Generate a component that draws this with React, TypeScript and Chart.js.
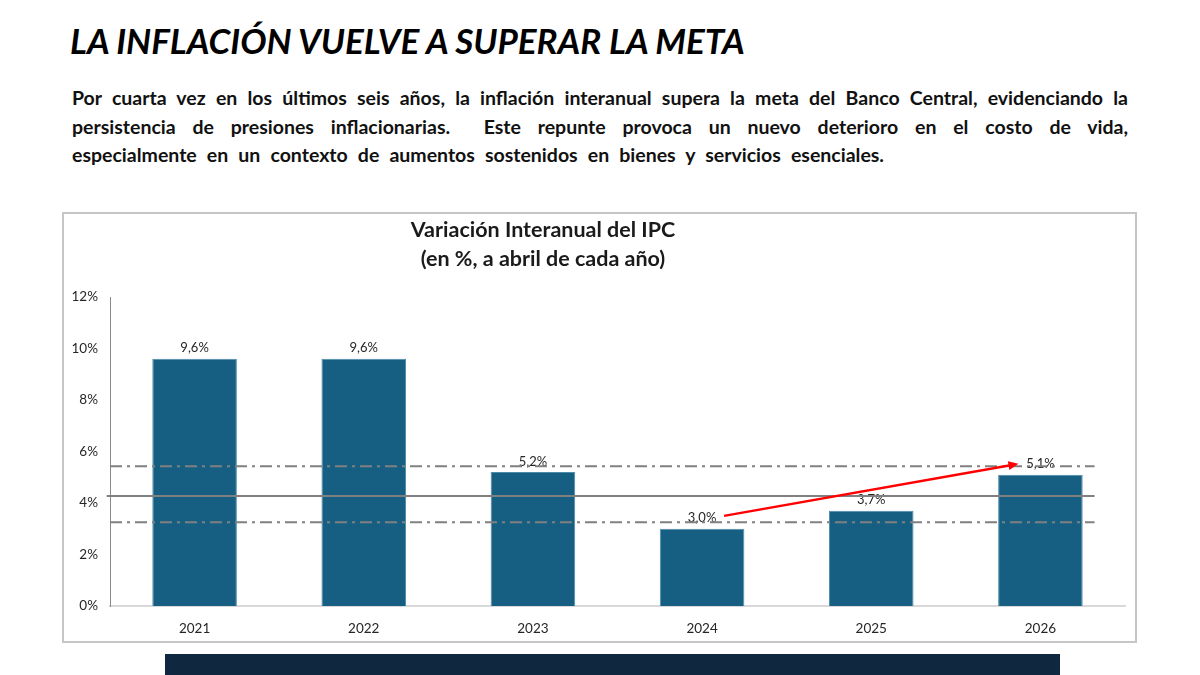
import React, { useEffect, useRef } from "react";
import { Chart, registerables } from "chart.js";

Chart.register(...registerables);

// ---- data ----
const categories = ["2021", "2022", "2023", "2024", "2025", "2026"];
const inflation = [9.6, 9.6, 5.2, 3.0, 3.7, 5.1];
const yMin = 0;
const yMax = 12;
const yStep = 2;
const targetCenter = 4.27; // meta central
const targetBand = [5.43, 3.25]; // rango de tolerancia
const centerLineX = [-0.52, 5.32];
const bandLineX = [-0.5, 5.32];
const arrowFrom = [3.13, 3.5];
const arrowTo = [4.87, 5.52];

const headline = "LA INFLACIÓN VUELVE A SUPERAR LA META";
const bodyLines = [
  "Por cuarta vez en los últimos seis años, la inflación interanual supera la meta del Banco Central, evidenciando la",
  "persistencia de presiones inflacionarias.  Este repunte provoca un nuevo deterioro en el costo de vida,",
  "especialmente en un contexto de aumentos sostenidos en bienes y servicios esenciales.",
];
const bodyLineWidths = [1056, 1056, 812];
const chartTitle = ["Variación Interanual del IPC", "(en %, a abril de cada año)"];

const FONT = "Lato, 'Open Sans', sans-serif";

const fmt = (v: number) => v.toFixed(1).replace(".", ",") + "%";

const overlayPlugin = {
  id: "overlay",
  afterDatasetsDraw(chart: any) {
    const { ctx, scales } = chart;
    const xs = scales.x;
    const ys = scales.y;
    const meta = chart.getDatasetMeta(0);
    ctx.save();
    // value labels
    ctx.font = "13px " + FONT;
    ctx.fillStyle = "#262626";
    ctx.textAlign = "center";
    ctx.textBaseline = "bottom";
    meta.data.forEach((bar: any, i: number) => {
      ctx.fillText(fmt(inflation[i]), bar.x, ys.getPixelForValue(inflation[i]) - 4);
    });
    // target center line
    ctx.strokeStyle = "#808080";
    ctx.lineWidth = 2;
    ctx.setLineDash([]);
    ctx.beginPath();
    ctx.moveTo(xs.getPixelForValue(centerLineX[0]), ys.getPixelForValue(targetCenter));
    ctx.lineTo(xs.getPixelForValue(centerLineX[1]), ys.getPixelForValue(targetCenter));
    ctx.stroke();
    // band lines
    ctx.setLineDash([12, 5, 3, 5]);
    targetBand.forEach((v) => {
      ctx.beginPath();
      ctx.moveTo(xs.getPixelForValue(bandLineX[0]), ys.getPixelForValue(v));
      ctx.lineTo(xs.getPixelForValue(bandLineX[1]), ys.getPixelForValue(v));
      ctx.stroke();
    });
    ctx.setLineDash([]);
    // arrow
    const x1 = xs.getPixelForValue(arrowFrom[0]);
    const y1 = ys.getPixelForValue(arrowFrom[1]);
    const x2 = xs.getPixelForValue(arrowTo[0]);
    const y2 = ys.getPixelForValue(arrowTo[1]);
    const ang = Math.atan2(y2 - y1, x2 - x1);
    const head = 10;
    ctx.strokeStyle = "#ff0000";
    ctx.fillStyle = "#ff0000";
    ctx.lineWidth = 2.5;
    ctx.beginPath();
    ctx.moveTo(x1, y1);
    ctx.lineTo(x2 - head * 0.8 * Math.cos(ang), y2 - head * 0.8 * Math.sin(ang));
    ctx.stroke();
    ctx.beginPath();
    ctx.moveTo(x2, y2);
    ctx.lineTo(x2 - head * Math.cos(ang) + 4.5 * Math.sin(ang), y2 - head * Math.sin(ang) - 4.5 * Math.cos(ang));
    ctx.lineTo(x2 - head * Math.cos(ang) - 4.5 * Math.sin(ang), y2 - head * Math.sin(ang) + 4.5 * Math.cos(ang));
    ctx.closePath();
    ctx.fill();
    ctx.restore();
  },
};

export default function App() {
  const canvasRef = useRef<HTMLCanvasElement | null>(null);

  useEffect(() => {
    if (!canvasRef.current) return;
    const chart = new Chart(canvasRef.current, {
      type: "bar",
      data: {
        labels: categories,
        datasets: [
          {
            data: inflation,
            backgroundColor: "#165f82",
            borderColor: "#4d8cab",
            borderWidth: 1,
            barPercentage: 0.5,
            categoryPercentage: 1,
          },
        ],
      },
      options: {
        animation: false,
        responsive: false,
        events: [],
        layout: { padding: { left: 0, top: 85, right: 12, bottom: 0 } },
        plugins: {
          legend: { display: false },
          title: { display: false },
          tooltip: { enabled: false },
        },
        scales: {
          x: {
            grid: { display: false, drawTicks: false },
            border: { display: true, color: "#d9d9d9", width: 2 },
            ticks: { color: "#262626", font: { family: FONT, size: 13.5 }, padding: 15 },
            afterFit: (s: any) => {
              s.height = 37;
            },
          },
          y: {
            min: yMin,
            max: yMax,
            grid: { display: false, drawTicks: false },
            border: { display: true, color: "#8c8c8c", width: 1 },
            ticks: {
              stepSize: yStep,
              color: "#262626",
              font: { family: FONT, size: 13.5 },
              padding: 12,
              callback: (v: any) => v + "%",
            },
            afterFit: (s: any) => {
              s.width = 48;
            },
          },
        },
      },
      plugins: [overlayPlugin],
    });
    return () => chart.destroy();
  }, []);

  return (
    <div
      style={{
        position: "fixed",
        left: 0,
        top: 0,
        width: 1200,
        height: 675,
        background: "#ffffff",
        overflow: "hidden",
        fontFamily: FONT,
        color: "#000",
      }}
    >
      <div
        style={{
          position: "absolute",
          left: 70,
          top: 23,
          fontSize: 35,
          lineHeight: "35px",
          fontWeight: 700,
          fontStyle: "italic",
          whiteSpace: "nowrap",
          color: "#000",
        }}
      >
        {headline}
      </div>
      <div
        style={{
          position: "absolute",
          left: 72,
          top: 84,
          fontSize: 19.5,
          lineHeight: "28.5px",
          fontWeight: 700,
          color: "#111",
        }}
      >
        {bodyLines.map((l, i) => (
          <div
            key={i}
            style={{
              width: bodyLineWidths[i],
              whiteSpace: "pre",
              textAlign: "justify",
              textAlignLast: "justify",
            }}
          >
            {l}
          </div>
        ))}
      </div>
      <div
        style={{
          position: "absolute",
          left: 62,
          top: 212,
          width: 1075,
          height: 431,
          boxSizing: "border-box",
          border: "2px solid #c6c6c6",
        }}
      />
      <canvas
        ref={canvasRef}
        width={1075}
        height={431}
        style={{ position: "absolute", left: 62, top: 212, width: 1075, height: 431 }}
      />
      <div
        style={{
          position: "absolute",
          left: 343,
          top: 215,
          width: 400,
          textAlign: "center",
          fontSize: 21.5,
          lineHeight: "29px",
          fontWeight: 700,
          color: "#1a1a1a",
        }}
      >
        {chartTitle.map((t, i) => (
          <div key={i}>{t}</div>
        ))}
      </div>
      <div
        style={{
          position: "absolute",
          left: 165,
          top: 654,
          width: 895,
          height: 30,
          background: "#10283f",
        }}
      />
    </div>
  );
}
